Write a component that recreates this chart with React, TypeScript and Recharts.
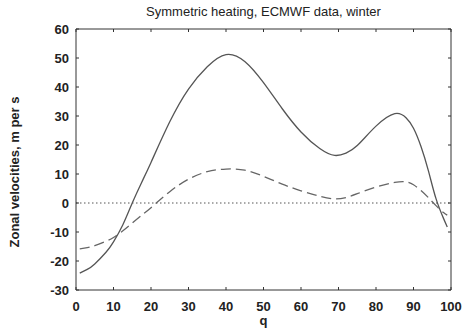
import React from 'react';
import { LineChart, Line, XAxis, YAxis, ReferenceLine, Label } from 'recharts';

const qValues = [1, 3, 5, 8, 10, 12.5, 15, 17.5, 20, 25, 30, 35, 40, 45, 50, 55, 60, 65, 69, 72, 75, 80, 85, 88, 90, 92, 94, 96, 98, 99];
const solidVelocity = [-24.2, -22.9, -21, -17, -13.4, -7.5, 0, 7.1, 14, 28, 39.3, 47, 51.2, 48.8, 41.5, 32.5, 24.5, 18.8, 16.4, 17.2, 19.8, 26.5, 30.8, 29.4, 25.8, 19.5, 11, 1.5, -5.3, -8.3];
const dashedVelocity = [-15.8, -15.4, -14.7, -13.2, -11.9, -9.6, -6.9, -4.2, -1.6, 3.9, 8.2, 10.8, 11.7, 11.3, 9.2, 6.5, 4.2, 2.3, 1.4, 1.9, 3.2, 5.5, 7.1, 7.3, 6.3, 4.3, 1.8, -0.9, -3.3, -4.2];
const xTicks = [0, 10, 20, 30, 40, 50, 60, 70, 80, 90, 100];
const yTicks = [-30, -20, -10, 0, 10, 20, 30, 40, 50, 60];

const data = qValues.map((q, i) => ({
  q,
  solid: solidVelocity[i],
  dashed: dashedVelocity[i],
}));

const font = '"Liberation Sans", Arial, sans-serif';
const tickStyle = { fontSize: 13, fontWeight: 'bold', fill: '#222', fontFamily: font };
const frame = '#333';
const blank = () => '';

const App = () => {
  return (
    <div style={{ position: 'absolute', left: 0, top: 0, width: 463, height: 330, background: '#fff' }}>
      <div
        style={{
          position: 'absolute',
          left: 76,
          width: 375,
          top: 4,
          textAlign: 'center',
          fontFamily: font,
          fontSize: 13,
          color: '#222',
        }}
      >
        Symmetric heating, ECMWF data, winter
      </div>
      <LineChart width={463} height={330} data={data} margin={{ top: 0, right: 0, bottom: 0, left: 0 }}>
        <XAxis
          dataKey="q"
          type="number"
          domain={[0, 100]}
          ticks={xTicks}
          height={40}
          tickSize={-3}
          tickMargin={15}
          tick={tickStyle}
          stroke={frame}
        >
          <Label
            value="q"
            position="bottom"
            offset={-14}
            style={{ fontSize: 13, fontWeight: 'bold', fill: '#222', fontFamily: font }}
          />
        </XAxis>
        <XAxis
          xAxisId="top"
          orientation="top"
          dataKey="q"
          type="number"
          domain={[0, 100]}
          ticks={xTicks}
          height={29}
          tickSize={-3}
          tickFormatter={blank}
          stroke={frame}
        />
        <YAxis
          domain={[-30, 60]}
          ticks={yTicks}
          width={76}
          tickSize={-3}
          tickMargin={10}
          tick={tickStyle}
          stroke={frame}
        >
          <Label
            content={() => (
              <text
                x={19}
                y={172}
                transform="rotate(-90 19 172)"
                textAnchor="middle"
                style={{ fontSize: 13, fontWeight: 'bold', fill: '#222', fontFamily: font }}
              >
                Zonal velocities, m per s
              </text>
            )}
          />
        </YAxis>
        <YAxis
          yAxisId="right"
          orientation="right"
          domain={[-30, 60]}
          ticks={yTicks}
          width={12}
          tickSize={-3}
          tickFormatter={blank}
          stroke={frame}
        />
        <ReferenceLine y={0} stroke="#555" strokeDasharray="1.5 2.5" />
        <Line
          xAxisId="top"
          yAxisId="right"
          type="monotone"
          dataKey="solid"
          stroke="none"
          dot={false}
          activeDot={false}
          isAnimationActive={false}
        />
        <Line
          type="natural"
          dataKey="solid"
          stroke="#555"
          strokeWidth={1.3}
          dot={false}
          isAnimationActive={false}
        />
        <Line
          type="natural"
          dataKey="dashed"
          stroke="#666"
          strokeWidth={1.3}
          strokeDasharray="10 5"
          dot={false}
          isAnimationActive={false}
        />
      </LineChart>
    </div>
  );
};

export default App;
